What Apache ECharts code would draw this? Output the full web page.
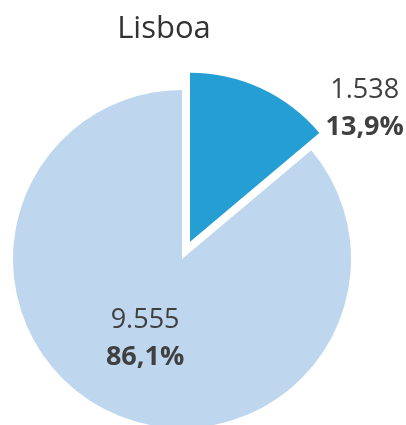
<!DOCTYPE html>
<html>
<head>
<meta charset="utf-8">
<script src="https://cdn.jsdelivr.net/npm/echarts@6/dist/echarts.min.js"></script>
<style>
html,body{margin:0;padding:0;background:#fff;}
#chart{width:406px;height:425px;}
</style>
</head>
<body>
<div id="chart"></div>
<script>
const titleText = "Lisboa";
const categories = ["Grupo A", "Grupo B"];
const values = [1538, 9555];
const colors = ["#259FD3", "#BFD7EE"];

function fmtNum(v) {
  return String(v).replace(/\B(?=(\d{3})+(?!\d))/g, ".");
}

const chart = echarts.init(document.getElementById('chart'));
const data = categories.map((c, i) => ({
  name: c,
  value: values[i],
  selected: i === 0,
  itemStyle: { color: colors[i] },
  label: i === 0 ? { position: 'outside' } : { position: 'inside' },
  labelLine: { show: false, length: 10, length2: 55 }
}));

chart.setOption({
  backgroundColor: '#ffffff',
  animation: false,
  title: {
    text: titleText,
    left: 159,
    top: 9,
    textAlign: 'center',
    textStyle: {
      fontFamily: 'Open Sans',
      fontSize: 31,
      fontWeight: 'normal',
      color: '#333333'
    }
  },
  series: [{
    type: 'pie',
    center: [182, 259],
    radius: 169,
    startAngle: 90,
    clockwise: true,
    selectedMode: 'single',
    selectedOffset: 19,
    percentPrecision: 1,
    avoidLabelOverlap: false,
    emphasis: { disabled: true },
    labelLayout: function (p) {
      return p.dataIndex === 0 ? { dy: 29 } : {};
    },
    label: {
      show: true,
      fontFamily: 'Open Sans',
      formatter: function (p) {
        return '{a|' + fmtNum(p.value) + '}\n{b|' + p.percent.toFixed(1).replace('.', ',') + '%}';
      },
      rich: {
        a: { fontFamily: 'Open Sans', fontSize: 27, color: '#404040', lineHeight: 37, align: 'center' },
        b: { fontFamily: 'Open Sans', fontSize: 27, fontWeight: 'bold', color: '#404040', lineHeight: 37, align: 'center' }
      }
    },
    data: data
  }]
});
</script>
</body>
</html>
